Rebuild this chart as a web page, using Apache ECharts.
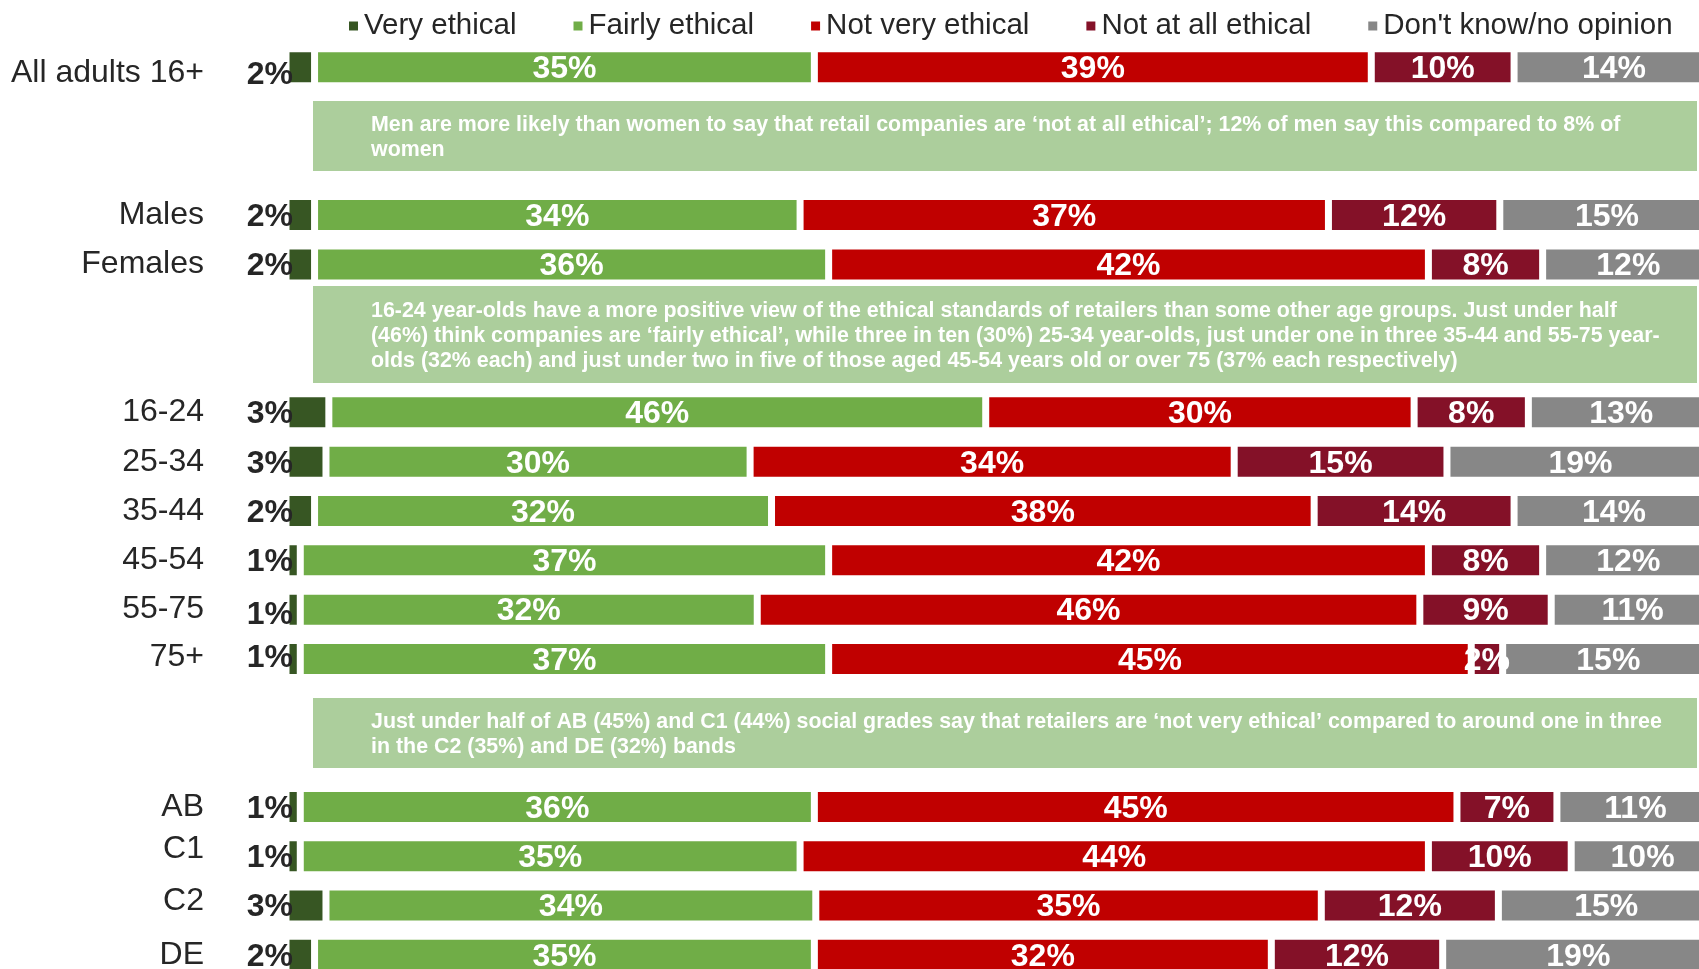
<!DOCTYPE html>
<html><head><meta charset="utf-8">
<script src="https://cdn.jsdelivr.net/npm/echarts@6/dist/echarts.min.js"></script>
<style>html,body{margin:0;padding:0;background:#fff}#c{width:1699px;height:969px}</style>
</head><body><div id="c"></div>
<script>
// rows (gap rows hold the annotation boxes)
const categories = ['All adults 16+','gap1','gap2','Males','Females','gap3','gap4','16-24','25-34','35-44','45-54','55-75','75+','gap5','gap6','AB','C1','C2','DE'];
const veryEthical     = [2, null,null, 2, 2, null,null, 3, 2.8, 2, 1, 1, 1, null,null, 1, 1, 2.8, 2];
const fairlyEthical   = [35,null,null, 34,36,null,null, 46,29.7,32,37,32,37, null,null, 36,35,34.3,35];
const notVeryEthical  = [39,null,null, 37,42,null,null, 30,33.9,38,42,46.4,45, null,null, 45,44,35.4,32];
const notAtAllEthical = [10,null,null, 12,8, null,null, 8, 14.9,14,8, 9.2,2.2, null,null, 7, 10,12.4,12];
const dontKnow        = [14,null,null, 15,12,null,null, 13,18.7,14,12,11.4,14.8, null,null, 11,10,15.1,19];
const seriesNames = ['Very ethical','Fairly ethical','Not very ethical','Not at all ethical',"Don't know/no opinion"];
const notes = [
  'Men are more likely than women to say that retail companies are \u2018not at all ethical\u2019; 12% of men say this compared to 8% of\nwomen',
  '16-24 year-olds have a more positive view of the ethical standards of retailers than some other age groups. Just under half\n(46%) think companies are \u2018fairly ethical\u2019, while three in ten (30%) 25-34 year-olds, just under one in three 35-44 and 55-75 year-\nolds (32% each) and just under two in five of those aged 45-54 years old or over 75 (37% each respectively)',
  'Just under half of AB (45%) and C1 (44%) social grades say that retailers are \u2018not very ethical\u2019 compared to around one in three\nin the C2 (35%) and DE (32%) bands'
];

const FONT = '"Liberation Sans Narrow","Arial Narrow","Liberation Sans",Arial,sans-serif';
const colors = ['#375623','#70AD47','#C00000','#841128','#878787'];
const values = [veryEthical, fairlyEthical, notVeryEthical, notAtAllEthical, dontKnow];
const fmt = p => Math.round(p.value) + '%';

// small label nudges (vertical) seen in the original layout
const darkLabelShift = {'All adults 16+': 6, '55-75': 4, '75+': -3};
const catLabelShift = {'All adults 16+': 6, 'C1': -7, 'C2': -4, '75+': -2};

const series = values.map((d, i) => ({
  name: seriesNames[i],
  type: 'bar',
  stack: 'all',
  barWidth: 37,
  data: i === 0 ? d.map((v, k) => v == null ? v : {value: v,
      label: {offset: [0, 2 + (darkLabelShift[categories[k]] || 0)]}}) : d,
  itemStyle: {color: colors[i], borderColor: '#fff', borderWidth: 3.5},
  label: i === 0 ? {
    show: true, position: 'left', distance: -7, offset: [0, 2],
    formatter: fmt, color: '#262626', fontWeight: 'bold', fontSize: 32, fontFamily: FONT
  } : {
    show: true, position: 'inside', formatter: fmt, offset: [0, 2],
    color: '#fff', fontWeight: 'bold', fontSize: 32, fontFamily: FONT
  }
}));

const boxes = [[101,171],[286,383],[698,768]];
const graphic = [];
boxes.forEach((b, i) => {
  graphic.push({type:'rect', left: 313, top: b[0], z: 10,
    shape:{width: 1384, height: b[1]-b[0]}, style:{fill:'#ACCE9C'}});
  graphic.push({type:'text', x: 371, y: (b[0]+b[1])/2 + 1.5, z: 11,
    style:{text: notes[i], fill:'#fff', fontSize: 21.4, fontWeight:'bold', fontFamily: FONT,
      lineHeight: 25, verticalAlign:'middle', align:'left'}});
});

const rich = {};
Object.keys(catLabelShift).forEach((k, j) => {
  const s = catLabelShift[k];
  rich['s' + j] = {fontSize: 32, fontFamily: FONT, color: '#262626',
    padding: s > 0 ? [2 * s, 0, 0, 0] : [0, 0, -2 * s, 0]};
});

const chart = echarts.init(document.getElementById('c'));
chart.setOption({
  animation: false,
  color: colors,
  legend: {
    top: 6, left: 342, itemWidth: 11, itemHeight: 11, itemGap: 55, icon: 'rect',
    data: seriesNames,
    textStyle: {fontSize: 29.5, fontFamily: FONT, color: '#262626'}
  },
  grid: {left: 286, top: 42.5, width: 1428, height: 937, containLabel: false, outerBoundsMode: 'none'},
  xAxis: {type: 'value', min: 0, max: 100, show: false},
  yAxis: {
    type: 'category', inverse: true, data: categories,
    axisLine: {show: false}, axisTick: {show: false},
    axisLabel: {interval: 0, margin: 82, fontSize: 32, fontFamily: FONT, color: '#262626', rich: rich,
      formatter: v => {
        if (v.startsWith('gap')) return '';
        const idx = Object.keys(catLabelShift).indexOf(v);
        return idx >= 0 ? '{s' + idx + '|' + v + '}' : v;
      }}
  },
  series: series,
  graphic: graphic
});
</script></body></html>
